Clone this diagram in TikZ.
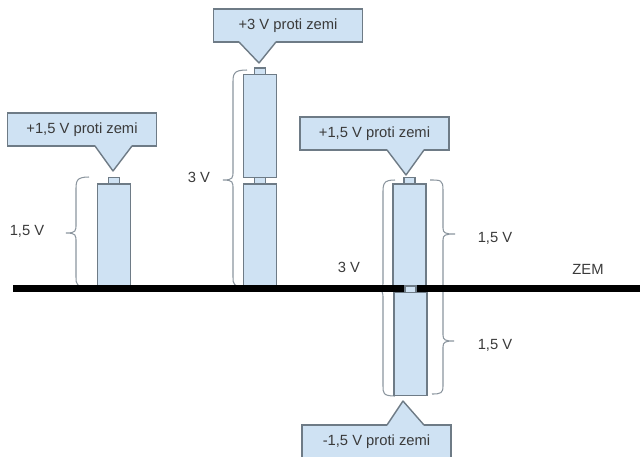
\documentclass[tikz,border=0pt]{standalone}
\usepackage{fontspec}
\setmainfont{Liberation Sans}
\usepackage{tikz}
\usetikzlibrary{positioning}
\definecolor{modra}{HTML}{CFE2F3}
\definecolor{obrys}{HTML}{6E7B86}
\definecolor{popis}{HTML}{3A3A3A}
\tikzset{
  clanek/.style={draw=obrys,fill=modra,line width=0.7pt,inner sep=0pt,outer sep=0pt,minimum width=6.6mm,minimum height=20.6mm},
  kontakt/.style={draw=obrys,fill=modra,line width=0.6pt,inner sep=0pt,outer sep=0pt,minimum width=2.2mm,minimum height=1.3mm},
  bublina/.style={draw=obrys,fill=modra,line width=0.8pt,inner sep=0pt,outer sep=0pt,minimum width=29.8mm,minimum height=6.6mm,text=popis,font=\fontsize{8.4}{10}\selectfont},
  hrot/.style={draw=obrys,line width=0.8pt,line join=round},
  zem/.style={line width=3.7pt,black},
  zavorka/.style={draw=obrys!80,line width=0.6pt},
  napis/.style={text=popis,inner sep=0pt,font=\fontsize{8.4}{10}\selectfont}
}
% end x, spine x, tip x, top y, tip y, bottom y
\newcommand{\svorka}[6]{
  \draw[zavorka] (#1,#4) .. controls (#2,#4) and (#2,#4+4) .. (#2,#4+14)
    -- (#2,#5-9) .. controls (#2,#5-2) and (#2,#5) .. (#3,#5)
    .. controls (#2,#5) and (#2,#5+2) .. (#2,#5+9)
    -- (#2,#6-10) .. controls (#2,#6-3) and (#2,#6) .. (#1,#6);
}
\begin{document}
\begin{tikzpicture}[x=0.2mm,y=-0.2mm]
  \useasboundingbox (0,0) rectangle (640,456);

  % svorky
  \svorka{89}{76}{66}{177}{233}{287}
  \svorka{247}{233}{223}{70}{180}{287}
  \svorka{395}{383}{376}{180}{290}{396}
  \draw[zavorka] (430,180) .. controls (441,180) and (443,180) .. (443,190) -- (443,228)
    .. controls (443,233) and (445,234) .. (455,234)
    .. controls (445,234) and (443,235) .. (443,240) -- (443,288);
  \draw[zavorka] (443,288) -- (443,335) .. controls (443,340) and (445,341) .. (454,341)
    .. controls (445,341) and (443,342) .. (443,347) -- (443,386)
    .. controls (443,393) and (441,394) .. (432,394);

  % clanky
  \node[clanek] (c1) at (114,235.5) {};
  \node[kontakt,above=0pt of c1] (k1) {};

  \node[clanek] (c2) at (260,235.5) {};
  \node[kontakt,above=0pt of c2] (k2) {};
  \node[clanek,above=0pt of k2] (c3) {};
  \node[kontakt,above=0pt of c3] (k3) {};

  \node[clanek] (c4) at (409.5,235.5) {};
  \node[kontakt,above=0pt of c4] (k4) {};

  \coordinate (z1) at (13,288.5);
  \coordinate (z2) at (640,288.5);
  \draw[zem] (z1) -- (z2);

  \node[clanek] (c5) at (410.5,344) {};
  \node[kontakt,above=0pt of c5] (k5) {};

  % bubliny
  \node[bublina] (b1) at (82,129.5) {+1,5 V proti zemi};
  \node[bublina] (b2) at (288,25.5) {+3 V proti zemi};
  \node[bublina] (b3) at (374.5,133.5) {+1,5 V proti zemi};
  \node[bublina] (b4) at (376.5,441.5) {-1,5 V proti zemi};

  \coordinate (t1) at (113,171);
  \coordinate (t2) at (259,63);
  \coordinate (t3) at (406,175);
  \coordinate (t4) at (403,401);

  \fill[modra] (95,145) -- (t1) -- (132,145) -- cycle;
  \draw[hrot] (95,146) -- (t1) -- (132,146);
  \fill[modra] (239,41) -- (t2) -- (276,41) -- cycle;
  \draw[hrot] (239,42) -- (t2) -- (276,42);
  \fill[modra] (387,149) -- (t3) -- (424,149) -- cycle;
  \draw[hrot] (387,150) -- (t3) -- (424,150);
  \fill[modra] (387,426) -- (t4) -- (424,426) -- cycle;
  \draw[hrot] (387,425) -- (t4) -- (424,425);

  % popisy
  \node[napis] (n1) at (27,231) {1,5 V};
  \node[napis] (n2) at (199,177) {3 V};
  \node[napis] (n3) at (349,267) {3 V};
  \node[napis] (n4) at (495,238) {1,5 V};
  \node[napis] (n5) at (495,345) {1,5 V};
  \node[napis] (n6) at (588,269) {ZEM};
\end{tikzpicture}
\end{document}
